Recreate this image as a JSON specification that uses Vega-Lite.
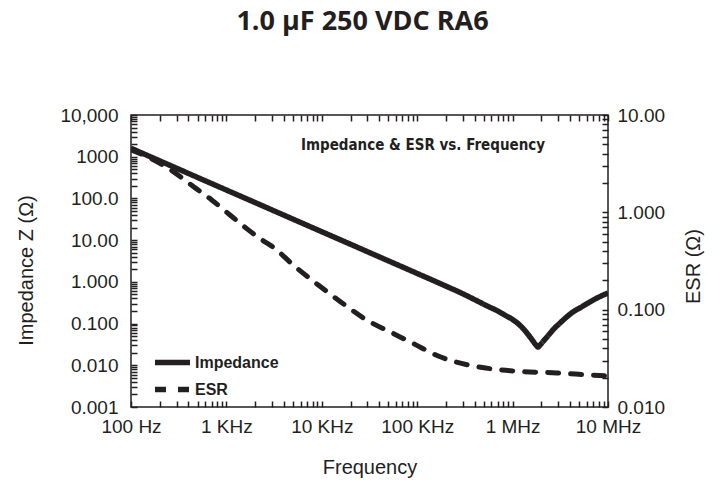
{
  "$schema": "https://vega.github.io/schema/vega-lite/v6.json",
  "width": 477,
  "height": 292,
  "autosize": {"type": "none"},
  "padding": {"left": 131, "top": 115, "right": 114, "bottom": 73},
  "background": "white",
  "config": {
    "view": {"stroke": "#231f20", "strokeWidth": 1.5},
    "axis": {
      "grid": false,
      "domain": false,
      "labelColor": "#231f20",
      "labelFont": "Liberation Sans",
      "labelFontSize": 19,
      "labelOverlap": false,
      "labelFlush": false,
      "titleFont": "Liberation Sans",
      "titleFontSize": 20,
      "titleFontWeight": "normal",
      "titleColor": "#231f20"
    }
  },
  "title": {
    "text": "1.0 µF 250 VDC RA6",
    "font": "Open Sans",
    "fontSize": 27,
    "fontWeight": "bold",
    "color": "#231f20",
    "anchor": "middle",
    "dx": -7,
    "offset": 70
  },
  "datasets": {
    "imp": [
      {"f": 100, "z": 1592},
      {"f": 200, "z": 796},
      {"f": 500, "z": 318},
      {"f": 1000, "z": 159},
      {"f": 2000, "z": 79.6},
      {"f": 5000, "z": 31.8},
      {"f": 10000, "z": 15.9},
      {"f": 20000, "z": 7.96},
      {"f": 50000, "z": 3.18},
      {"f": 100000, "z": 1.59},
      {"f": 200000, "z": 0.79},
      {"f": 300000, "z": 0.52},
      {"f": 400000, "z": 0.375},
      {"f": 550000, "z": 0.26},
      {"f": 700000, "z": 0.2},
      {"f": 850000, "z": 0.155},
      {"f": 1000000, "z": 0.125},
      {"f": 1110000, "z": 0.105},
      {"f": 1250000, "z": 0.082},
      {"f": 1400000, "z": 0.061},
      {"f": 1520000, "z": 0.048},
      {"f": 1650000, "z": 0.037},
      {"f": 1750000, "z": 0.031},
      {"f": 1850000, "z": 0.0275},
      {"f": 1950000, "z": 0.031},
      {"f": 2100000, "z": 0.038},
      {"f": 2300000, "z": 0.048},
      {"f": 2700000, "z": 0.074},
      {"f": 3140000, "z": 0.103},
      {"f": 3700000, "z": 0.145},
      {"f": 4300000, "z": 0.19},
      {"f": 5200000, "z": 0.245},
      {"f": 6470000, "z": 0.33},
      {"f": 8000000, "z": 0.43},
      {"f": 10000000, "z": 0.54}
    ],
    "esr": [
      {"f": 100, "esr": 4.4},
      {"f": 150, "esr": 3.7},
      {"f": 277, "esr": 2.62},
      {"f": 450, "esr": 1.84},
      {"f": 701, "esr": 1.34},
      {"f": 1091, "esr": 0.94},
      {"f": 1632, "esr": 0.68},
      {"f": 2436, "esr": 0.51},
      {"f": 2985, "esr": 0.45},
      {"f": 5237, "esr": 0.277},
      {"f": 9186, "esr": 0.179},
      {"f": 16200, "esr": 0.118},
      {"f": 30700, "esr": 0.0766},
      {"f": 54000, "esr": 0.058},
      {"f": 94800, "esr": 0.044},
      {"f": 166000, "esr": 0.0334},
      {"f": 343000, "esr": 0.027},
      {"f": 654000, "esr": 0.0244},
      {"f": 1290000, "esr": 0.0231},
      {"f": 2900000, "esr": 0.0224},
      {"f": 6470000, "esr": 0.0213},
      {"f": 10000000, "esr": 0.0208}
    ]
  },
  "layer": [
    {
      "layer": [
        {
          "data": {"name": "imp"},
          "mark": {"type": "line", "color": "#231f20", "strokeWidth": 5.5, "strokeJoin": "round", "interpolate": "monotone", "clip": true},
          "encoding": {
            "x": {
              "field": "f",
              "type": "quantitative",
              "scale": {"type": "log", "domain": [100, 10000000], "nice": false},
              "axis": {
                "orient": "bottom",
                "offset": -6,
                "ticks": true,
                "tickSize": 6,
                "tickColor": "#231f20",
                "tickOpacity": 1,
                "tickWidth": 1.5,
                "title": "Frequency",
                "titlePadding": 21,
                "values": [100,200,300,400,500,600,700,800,900,1000,2000,3000,4000,5000,6000,7000,8000,9000,10000,20000,30000,40000,50000,60000,70000,80000,90000,100000,200000,300000,400000,500000,600000,700000,800000,900000,1000000,2000000,3000000,4000000,5000000,6000000,7000000,8000000,9000000,10000000],
                "labelExpr": "datum.value == 100 ? '100 Hz' : datum.value == 1000 ? '1 KHz' : datum.value == 10000 ? '10 KHz' : datum.value == 100000 ? '100 KHz' : datum.value == 1000000 ? '1 MHz' : datum.value == 10000000 ? '10 MHz' : ''",
                "labelPadding": 10
              }
            },
            "y": {
              "field": "z",
              "type": "quantitative",
              "scale": {"type": "log", "domain": [0.001, 10000], "nice": false},
              "axis": {
                "orient": "left",
                "offset": -6,
                "ticks": true,
                "tickSize": 6,
                "tickColor": "#231f20",
                "tickOpacity": 1,
                "tickWidth": 1.5,
                "title": "Impedance Z (Ω)",
                "titlePadding": 23,
                "titleY": 155,
                "values": [0.001,0.002,0.003,0.004,0.005,0.006,0.007,0.008,0.009,0.01,0.02,0.03,0.04,0.05,0.06,0.07,0.08,0.09,0.1,0.2,0.3,0.4,0.5,0.6,0.7,0.8,0.9,1,2,3,4,5,6,7,8,9,10,20,30,40,50,60,70,80,90,100,200,300,400,500,600,700,800,900,1000,2000,3000,4000,5000,6000,7000,8000,9000,10000],
                "labelExpr": "datum.value == 10000 ? '10,000' : datum.value == 1000 ? '1000' : datum.value == 100 ? '100.0' : datum.value == 10 ? '10.00' : datum.value == 1 ? '1.000' : datum.value == 0.1 ? '0.100' : datum.value == 0.01 ? '0.010' : datum.value == 0.001 ? '0.001' : ''",
                "labelPadding": 13
              }
            },
            "strokeDash": {
              "datum": "Impedance",
              "type": "nominal",
              "scale": {"domain": ["Impedance", "ESR"], "range": [[1, 0], [11, 12]]},
              "legend": {
                "orient": "none",
                "legendX": 26,
                "legendY": 232,
                "title": null,
                "padding": 0,
                "symbolType": "M-1.4,0H1.4",
                "symbolSize": 625,
                "symbolStrokeWidth": 5.5,
                "symbolStrokeColor": "#231f20",
                "symbolFillColor": "transparent",
                "labelFont": "Liberation Sans",
                "labelFontSize": 16,
                "labelFontWeight": "bold",
                "labelColor": "#231f20",
                "labelOffset": 7,
                "rowPadding": 0
              }
            }
          }
        },
        {
          "data": {"values": [{"label": "Impedance & ESR vs. Frequency"}]},
          "mark": {"type": "text", "font": "DejaVu Sans Condensed", "fontSize": 15, "fontWeight": "bold", "color": "#231f20", "align": "center", "baseline": "middle"},
          "encoding": {
            "x": {"datum": 115000, "type": "quantitative"},
            "y": {"datum": 1900, "type": "quantitative"},
            "text": {"field": "label", "type": "nominal"}
          }
        }
      ]
    },
    {
      "data": {"name": "esr"},
      "mark": {"type": "line", "color": "#231f20", "strokeWidth": 5, "strokeCap": "round", "interpolate": "monotone", "clip": true},
      "encoding": {
        "x": {
          "field": "f",
          "type": "quantitative",
          "scale": {"type": "log", "domain": [100, 10000000], "nice": false},
          "axis": {
            "orient": "top",
            "offset": -6,
            "ticks": true,
            "tickSize": 6,
            "tickColor": "#231f20",
            "tickOpacity": 1,
            "tickWidth": 1.5,
            "title": null,
            "labels": false,
            "values": [100,200,300,400,500,600,700,800,900,1000,2000,3000,4000,5000,6000,7000,8000,9000,10000,20000,30000,40000,50000,60000,70000,80000,90000,100000,200000,300000,400000,500000,600000,700000,800000,900000,1000000,2000000,3000000,4000000,5000000,6000000,7000000,8000000,9000000,10000000]
          }
        },
        "y": {
          "field": "esr",
          "type": "quantitative",
          "scale": {"type": "log", "domain": [0.01, 10], "nice": false},
          "axis": {
            "orient": "right",
            "offset": -6,
            "ticks": true,
            "tickSize": 6,
            "tickColor": "#231f20",
            "tickOpacity": 1,
            "tickWidth": 1.5,
            "title": "ESR (Ω)",
            "titleAngle": 270,
            "titleBaseline": "top",
            "titlePadding": 19,
            "titleY": 151,
            "values": [0.01,0.02,0.03,0.04,0.05,0.06,0.07,0.08,0.09,0.1,0.2,0.3,0.4,0.5,0.6,0.7,0.8,0.9,1,2,3,4,5,6,7,8,9,10],
            "labelExpr": "datum.value == 10 ? '10.00' : datum.value == 1 ? '1.000' : datum.value == 0.1 ? '0.100' : datum.value == 0.01 ? '0.010' : ''",
            "labelPadding": 9
          }
        },
        "strokeDash": {"datum": "ESR", "type": "nominal"}
      }
    }
  ],
  "resolve": {"scale": {"y": "independent"}, "axis": {"x": "independent"}}
}
